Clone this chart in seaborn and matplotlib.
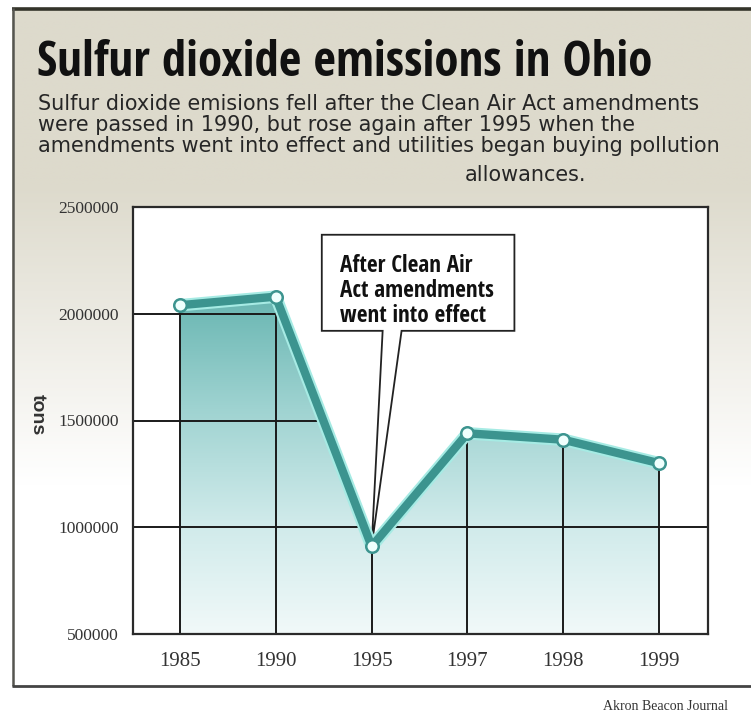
import numpy as np
import pandas as pd
import matplotlib
matplotlib.use("Agg")
import matplotlib.pyplot as plt
import matplotlib.patheffects as pe
from matplotlib.patches import Polygon
from matplotlib.colors import LinearSegmentedColormap
import seaborn as sns

# ---- data ----
years = ["1985", "1990", "1995", "1997", "1998", "1999"]
tons = [2040000, 2080000, 910000, 1440000, 1410000, 1300000]
y_ticks = [500000, 1000000, 1500000, 2000000, 2500000]

title = "Sulfur dioxide emissions in Ohio"
subtitle_lines = [
    "Sulfur dioxide emisions fell after the Clean Air Act amendments",
    "were passed in 1990, but rose again after 1995 when the",
    "amendments went into effect and utilities began buying pollution",
]
subtitle_tail = "allowances."
callout_text = "After Clean Air\nAct amendments\nwent into effect"
callout_year = "1995"
y_label = "tons"
credit = "Akron Beacon Journal"

# ---- style ----
sns.set_theme(style="white")
plt.rcParams["font.family"] = ["Liberation Sans", "DejaVu Sans"]
NARROW = ["Open Sans Condensed", "Liberation Sans Narrow", "DejaVu Sans"]
SERIF = ["Liberation Serif", "DejaVu Serif"]

TEAL = "#3c948f"
HALO = "#a6ebe4"
INK = "#1e1e1e"

W, H = 751, 717
fig = plt.figure(figsize=(W / 100, H / 100), dpi=100)
fig.patch.set_facecolor("white")
renderer = fig.canvas.get_renderer()


def fit_width(txt, target_px):
    """Rescale a text so that it spans target_px pixels."""
    w = txt.get_window_extent(renderer).width
    txt.set_fontsize(txt.get_fontsize() * target_px / w)


# ---- page background with a beige wash and frame rules ----
bg = fig.add_axes([0, 0, 1, 1], zorder=-10)
rows = np.linspace(8, 686, 400)
t = np.clip((rows - 185) / 300, 0, 1)
beige = np.array([221, 218, 204]) / 255
wash = beige[None, :] * (1 - t[:, None]) + t[:, None]
bg.imshow(np.repeat(wash[:, None, :], 2, axis=1), extent=(12, W, 686, 8),
          aspect="auto", interpolation="bilinear")
bg.plot([12, W], [8.5, 8.5], color="#34342a", lw=2.6, solid_capstyle="butt")
bg.plot([12.5, 12.5], [8, 686], color="#555550", lw=1.8, solid_capstyle="butt")
bg.plot([12, W], [686, 686], color="#444444", lw=2.0, solid_capstyle="butt")
bg.set_xlim(0, W)
bg.set_ylim(H, 0)
bg.axis("off")

# ---- headline block ----
head = fig.text(37 / W, 1 - 63 / H, title, fontsize=34, fontweight="bold",
                fontstretch="condensed", family=NARROW, color="#111111",
                va="center", ha="left")
fit_width(head, 615)

sub_first = None
for i, line in enumerate(subtitle_lines):
    st = fig.text(38 / W, 1 - (104 + 21 * i) / H, line, fontsize=14,
                  family=["DejaVu Sans"], color="#262626", va="center", ha="left")
    if sub_first is None:
        sub_first = st
        fit_width(st, 664)
    else:
        st.set_fontsize(sub_first.get_fontsize())
fig.text(525 / W, 1 - 175 / H, subtitle_tail, fontsize=sub_first.get_fontsize(),
         family=["DejaVu Sans"], color="#262626", va="center", ha="center")

# ---- chart ----
ax = fig.add_axes([133 / W, (H - 634) / H, 575 / W, 427 / H])
ax.set_facecolor("white")
df = pd.DataFrame({"year": years, "tons": tons})
pos = np.arange(len(years))
xmin, xmax = -0.49, len(years) - 0.49
ybot, ytop = y_ticks[0], y_ticks[-1]

# gradient area under the curve
area = Polygon(np.column_stack([np.r_[pos[0], pos, pos[-1]],
                                np.r_[ybot, tons, ybot]]),
               closed=True, facecolor="none", edgecolor="none",
               transform=ax.transData)
ax.add_patch(area)
fill_cmap = LinearSegmentedColormap.from_list(
    "fill", ["#f1f9f9", "#cfeaea", "#9fd3d1", "#69b6b2"])
grad = np.linspace(0, 1, 256)[:, None]
im = ax.imshow(grad, extent=(pos[0], pos[-1], ybot, max(tons)), origin="lower",
               aspect="auto", cmap=fill_cmap, zorder=1, interpolation="bilinear")
im.set_clip_path(area)

# grid rules only inside the shaded region
grid_region = Polygon(
    [(xmin, ybot), (xmin, tons[0]), *zip(pos, tons), (xmax, tons[-1]), (xmax, ybot)],
    closed=True, facecolor="none", edgecolor="none", transform=ax.transData)
ax.add_patch(grid_region)
for v in y_ticks[1:-1]:
    rule = ax.axhline(v, color="#1a1a1a", lw=1.4, zorder=2)
    rule.set_clip_path(grid_region)
ax.vlines(pos, ybot, tons, colors="#1a1a1a", lw=1.4, zorder=2)

# the emissions line
sns.pointplot(data=df, x="year", y="tons", errorbar=None, color=TEAL, ax=ax)
trend = ax.lines[-1]
trend.set_marker("None")
trend.set_linewidth(6)
trend.set_solid_joinstyle("round")
trend.set_zorder(4)
trend.set_path_effects([pe.Stroke(linewidth=9, foreground=HALO), pe.Normal()])
ax.plot(pos, tons, "o", ms=9, mfc="#effffd", mec=TEAL, mew=1.8, zorder=5)

# callout box with a pointer to the low year
k = years.index(callout_year)
bx0, bx1, by0, by1 = 1.48, 3.49, 1920000, 2370000
wx0, wx1 = 2.115, 2.3125
callout = Polygon([(bx0, by1), (bx1, by1), (bx1, by0), (wx1, by0),
                   (pos[k], tons[k]), (wx0, by0), (bx0, by0)],
                  closed=True, facecolor="white", edgecolor="#222222",
                  lw=1.3, zorder=3.5, joinstyle="miter")
ax.add_patch(callout)
note = ax.text(1.67, 2280000, callout_text, fontsize=14, fontweight="bold",
               fontstretch="condensed", family=NARROW, color="#111111",
               va="top", ha="left", linespacing=1.05, zorder=7)

# axes cosmetics
ax.set_xlim(xmin, xmax)
ax.set_ylim(ybot, ytop)
ax.set_yticks(y_ticks)
ax.set_yticklabels([str(v) for v in y_ticks])
ax.set_xlabel("")
ax.set_ylabel("")
ax.tick_params(axis="y", length=0, pad=10, labelsize=12.5, labelcolor="#333333")
ax.tick_params(axis="x", length=0, pad=13, labelsize=15, labelcolor="#333333")
for lab in ax.get_yticklabels() + ax.get_xticklabels():
    lab.set_family(SERIF)
for sp in ax.spines.values():
    sp.set_visible(True)
    sp.set_color("#2a2a2a")
    sp.set_linewidth(1.6)

fit_width(note, 154)

fig.text(37 / W, 1 - 415 / H, y_label, rotation=-90, fontsize=14,
         fontweight="bold", color="#333333", va="center", ha="center")
fig.text(603 / W, 1 - 707 / H, credit, fontsize=10, family=SERIF,
         color="#333333", va="center", ha="left")

fig.savefig("out.png", dpi=100)
